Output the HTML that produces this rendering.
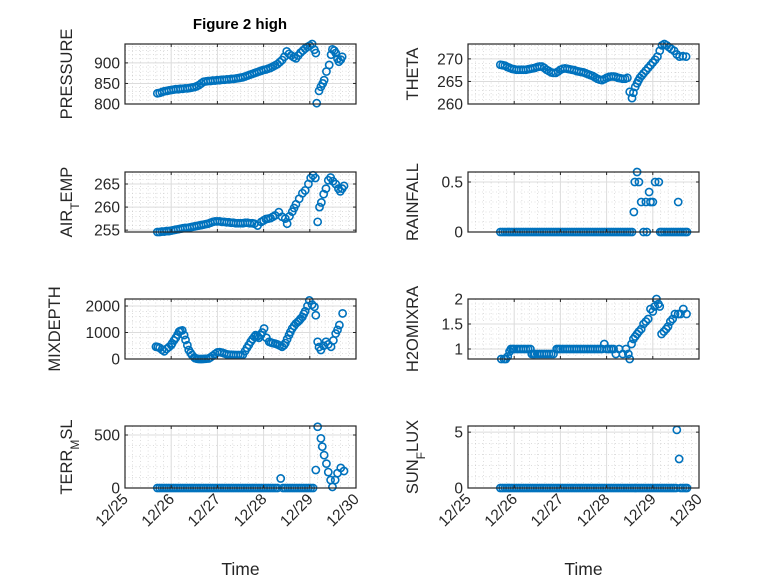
<!DOCTYPE html>
<html><head><meta charset="utf-8"><style>
html,body{margin:0;padding:0;background:#fff;}
svg{display:block;font-family:"Liberation Sans","DejaVu Sans",sans-serif;}
</style></head><body>
<svg id="fig" width="778" height="583" viewBox="0 0 778 583">
<rect width="778" height="583" fill="#fff"/>
<text x="240" y="29" text-anchor="middle" font-size="15" font-weight="bold" fill="#000">Figure 2 high</text>
</svg>
<script>
// time in days since 12/25
const dayLabels = ["12/25","12/26","12/27","12/28","12/29","12/30"];
const pressT = [0.7,0.75,0.8,0.85,0.9,0.95,1.0,1.05,1.1,1.15,1.2,1.25,1.3,1.35,1.4,1.45,1.5,1.55,1.6,1.65,1.7,1.75,1.8,1.85,1.9,1.95,2.0,2.05,2.1,2.15,2.2,2.25,2.3,2.35,2.4,2.45,2.5,2.55,2.6,2.65,2.7,2.75,2.8,2.85,2.9,2.95,3.0,3.05,3.1,3.15,3.2,3.25,3.3,3.35,3.4,3.45,3.5,3.55,3.6,3.65,3.7,3.75,3.8,3.85,3.9,3.95,4.0,4.05,4.1,4.13,4.15,4.2,4.24,4.28,4.31,4.36,4.42,4.46,4.49,4.53,4.56,4.6,4.63,4.67,4.7];
const pressV = [826,827,829,831,832,833,834,835,836,836,837,837,838,838,839,840,841,843,846,850,854,855,856,856,857,857,858,858,859,859,860,860,861,861,862,863,864,865,867,869,871,873,875,877,879,881,883,884,886,888,891,894,897,902,907,915,928,922,918,914,911,918,925,930,935,939,942,946,932,924,802,832,842,850,858,879,895,920,933,930,924,910,903,908,915];
const thetaT = [0.7,0.75,0.8,0.85,0.9,0.95,1.0,1.05,1.1,1.15,1.2,1.25,1.3,1.35,1.4,1.45,1.5,1.55,1.6,1.65,1.7,1.75,1.8,1.85,1.9,1.95,2.0,2.05,2.1,2.15,2.2,2.25,2.3,2.35,2.4,2.45,2.5,2.55,2.6,2.65,2.7,2.75,2.8,2.85,2.9,2.95,3.0,3.05,3.1,3.15,3.2,3.25,3.3,3.35,3.4,3.45,3.5,3.55,3.58,3.62,3.66,3.69,3.72,3.76,3.8,3.85,3.9,3.95,4.0,4.05,4.1,4.15,4.2,4.25,4.3,4.35,4.4,4.46,4.52,4.58,4.65,4.72];
const thetaV = [268.7,268.6,268.5,268.2,268.0,267.8,267.7,267.6,267.6,267.6,267.6,267.6,267.7,267.8,267.9,268.0,268.2,268.3,268.3,268.0,267.6,267.3,267.0,266.9,266.9,267.2,267.6,267.8,267.9,267.8,267.7,267.6,267.5,267.3,267.2,267.1,267.0,266.8,266.6,266.4,266.2,265.9,265.6,265.4,265.3,265.5,265.8,266.0,266.1,266.1,266.0,265.8,265.7,265.6,265.6,265.8,262.7,261.3,262.5,263.8,264.6,265.2,265.8,266.3,266.8,267.4,268.0,268.6,269.2,269.8,270.5,271.8,273.0,273.3,273.0,272.6,272.2,271.8,271.0,270.5,270.6,270.5];
const airT = [0.7,0.75,0.8,0.85,0.9,0.95,1.0,1.05,1.1,1.15,1.2,1.25,1.3,1.35,1.4,1.45,1.5,1.55,1.6,1.65,1.7,1.75,1.8,1.85,1.9,1.95,2.0,2.05,2.1,2.15,2.2,2.25,2.3,2.35,2.4,2.45,2.5,2.55,2.6,2.65,2.7,2.75,2.8,2.87,2.95,3.0,3.05,3.1,3.15,3.2,3.25,3.33,3.4,3.47,3.51,3.56,3.62,3.66,3.7,3.77,3.84,3.9,3.97,4.02,4.07,4.12,4.17,4.21,4.25,4.3,4.35,4.4,4.45,4.5,4.56,4.62,4.66,4.7,4.74];
const airV = [254.6,254.6,254.7,254.7,254.8,254.8,254.9,255.0,255.1,255.2,255.3,255.4,255.5,255.5,255.6,255.7,255.8,255.9,256.0,256.1,256.2,256.3,256.4,256.6,256.8,256.9,256.9,256.9,256.8,256.8,256.7,256.7,256.6,256.6,256.5,256.5,256.5,256.5,256.6,256.6,256.5,256.5,256.4,256.0,256.8,257.1,257.4,257.5,257.6,257.9,258.2,258.9,257.9,257.5,256.4,258.0,259.0,259.8,260.6,261.8,263.0,263.6,265.0,266.3,266.9,266.3,256.8,260.0,261.0,262.8,264.0,265.8,266.4,265.6,265.0,264.0,263.4,264.0,264.6];
const rainT = [0.7,0.75,0.8,0.85,0.9,0.95,1.0,1.05,1.1,1.15,1.2,1.25,1.3,1.35,1.4,1.45,1.5,1.55,1.6,1.65,1.7,1.75,1.8,1.85,1.9,1.95,2.0,2.05,2.1,2.15,2.2,2.25,2.3,2.35,2.4,2.45,2.5,2.55,2.6,2.65,2.7,2.75,2.8,2.85,2.9,2.95,3.0,3.05,3.1,3.15,3.2,3.25,3.3,3.35,3.4,3.45,3.5,3.55,3.59,3.61,3.66,3.7,3.75,3.8,3.87,3.85,3.92,3.95,4.0,4.05,4.13,4.16,4.2,4.25,4.3,4.35,4.4,4.45,4.5,4.55,4.55,4.6,4.65,4.7,4.74];
const rainV = [0,0,0,0,0,0,0,0,0,0,0,0,0,0,0,0,0,0,0,0,0,0,0,0,0,0,0,0,0,0,0,0,0,0,0,0,0,0,0,0,0,0,0,0,0,0,0,0,0,0,0,0,0,0,0,0,0,0,0.2,0.5,0.6,0.5,0.3,0,0,0.3,0.4,0.3,0.3,0.5,0.5,0,0,0,0,0,0,0,0,0,0.3,0,0,0,0];
const mixT = [0.67,0.71,0.75,0.8,0.85,0.9,0.95,1.0,1.02,1.06,1.1,1.14,1.17,1.2,1.24,1.28,1.31,1.35,1.38,1.42,1.45,1.5,1.52,1.56,1.6,1.64,1.67,1.71,1.75,1.81,1.85,1.9,1.95,2.0,2.05,2.1,2.15,2.2,2.25,2.3,2.35,2.4,2.45,2.5,2.55,2.6,2.64,2.68,2.72,2.76,2.8,2.83,2.87,2.9,2.94,2.97,3.01,3.06,3.12,3.16,3.2,3.25,3.3,3.35,3.4,3.44,3.47,3.51,3.55,3.58,3.62,3.66,3.7,3.74,3.77,3.8,3.84,3.87,3.9,3.95,3.99,4.05,4.1,4.13,4.17,4.2,4.24,4.3,4.35,4.4,4.46,4.51,4.56,4.6,4.64,4.71];
const mixV = [464,450,420,350,290,380,450,530,590,700,800,920,1030,1060,1080,900,720,520,340,230,150,60,30,10,0,0,0,5,10,20,60,120,190,250,260,240,210,180,165,160,155,150,150,150,160,300,420,530,650,750,840,900,860,800,900,1000,1150,800,650,620,600,580,550,510,460,520,600,750,900,1020,1150,1250,1340,1400,1450,1520,1590,1700,1800,2000,2210,2050,1970,1650,650,450,340,500,650,550,460,700,960,1100,1280,1720];
const h2oT = [0.72,0.78,0.82,0.86,0.9,0.93,0.97,1.0,1.05,1.1,1.15,1.2,1.25,1.3,1.35,1.38,1.42,1.45,1.5,1.55,1.6,1.65,1.7,1.75,1.8,1.85,1.92,1.96,2.0,2.05,2.1,2.15,2.2,2.25,2.3,2.35,2.4,2.45,2.5,2.55,2.6,2.65,2.7,2.75,2.8,2.85,2.9,2.95,3.0,3.05,3.1,3.15,3.2,3.27,3.35,3.42,3.47,3.5,3.54,3.58,3.62,3.66,3.7,3.75,3.8,3.85,3.9,3.95,4.0,4.04,4.08,4.12,4.15,4.19,4.24,4.29,4.33,4.38,4.43,4.48,4.55,4.6,4.66,4.73];
const h2oV = [0.8,0.8,0.8,0.85,0.95,1.0,1.0,1.0,1.0,1.0,1.0,1.0,1.0,1.0,1.0,0.9,0.9,0.9,0.9,0.9,0.9,0.9,0.9,0.9,0.9,0.9,1.0,1.0,1.0,1.0,1.0,1.0,1.0,1.0,1.0,1.0,1.0,1.0,1.0,1.0,1.0,1.0,1.0,1.0,1.0,1.0,1.0,1.1,1.0,1.0,1.0,1.0,0.9,1.0,0.9,1.0,0.9,0.8,1.1,1.2,1.25,1.3,1.35,1.4,1.5,1.55,1.6,1.8,1.75,1.85,2.0,1.9,1.85,1.3,1.35,1.4,1.45,1.55,1.6,1.7,1.7,1.7,1.8,1.7];
const terrT = [0.7,0.75,0.8,0.85,0.9,0.95,1.0,1.05,1.1,1.15,1.2,1.25,1.3,1.35,1.4,1.45,1.5,1.55,1.6,1.65,1.7,1.75,1.8,1.85,1.9,1.95,2.0,2.05,2.1,2.15,2.2,2.25,2.3,2.35,2.4,2.45,2.5,2.55,2.6,2.65,2.7,2.75,2.8,2.85,2.9,2.95,3.0,3.05,3.1,3.15,3.2,3.25,3.3,3.37,3.42,3.47,3.52,3.57,3.62,3.67,3.72,3.77,3.82,3.87,3.92,3.97,4.02,4.07,4.13,4.17,4.24,4.27,4.31,4.36,4.4,4.45,4.49,4.55,4.6,4.67,4.74];
const terrV = [0,0,0,0,0,0,0,0,0,0,0,0,0,0,0,0,0,0,0,0,0,0,0,0,0,0,0,0,0,0,0,0,0,0,0,0,0,0,0,0,0,0,0,0,0,0,0,0,0,0,0,0,0,90,0,0,0,0,0,0,0,0,0,0,0,0,0,0,170,578,468,390,310,230,150,75,10,75,140,190,160];
const sunT = [0.7,0.75,0.8,0.85,0.9,0.95,1.0,1.05,1.1,1.15,1.2,1.25,1.3,1.35,1.4,1.45,1.5,1.55,1.6,1.65,1.7,1.75,1.8,1.85,1.9,1.95,2.0,2.05,2.1,2.15,2.2,2.25,2.3,2.35,2.4,2.45,2.5,2.55,2.6,2.65,2.7,2.75,2.8,2.85,2.9,2.95,3.0,3.05,3.1,3.15,3.2,3.25,3.3,3.35,3.4,3.45,3.5,3.55,3.6,3.65,3.7,3.75,3.8,3.85,3.9,3.95,4.0,4.05,4.1,4.15,4.2,4.25,4.3,4.35,4.4,4.45,4.5,4.52,4.57,4.6,4.65,4.7,4.74];
const sunV = [0,0,0,0,0,0,0,0,0,0,0,0,0,0,0,0,0,0,0,0,0,0,0,0,0,0,0,0,0,0,0,0,0,0,0,0,0,0,0,0,0,0,0,0,0,0,0,0,0,0,0,0,0,0,0,0,0,0,0,0,0,0,0,0,0,0,0,0,0,0,0,0,0,0,0,0,0,5.2,2.6,0,0,0,0];
const pressTicks = [800,850,900], thetaTicks=[260,265,270], airTicks=[255,260,265], rainTicks=[0,0.5], mixTicks=[0,1000,2000], h2oTicks=[1,1.5,2], terrTicks=[0,500], sunTicks=[0,5];

const NS="http://www.w3.org/2000/svg";
const svg=document.getElementById('fig');
function el(tag,attrs,parent){const e=document.createElementNS(NS,tag);for(const k in attrs)e.setAttribute(k,attrs[k]);(parent||svg).appendChild(e);return e;}

function panel(name,L,R,T,B,ymin,ymax,yticks,ylab,tArr,vArr,ylabX,xlabels){
  const g=el('g',{});
  
  
  const xs=d=>L+(R-L)*d/5;
  const ys=v=>B-(B-T)*(v-ymin)/(ymax-ymin);
  for(let d=0;d<5;d+=1/6){ if(Math.abs(d-Math.round(d))<1e-6)continue; el('line',{x1:xs(d),x2:xs(d),y1:T,y2:B,stroke:'#c8c8c8','stroke-width':0.6,'stroke-dasharray':'1 2.5'},g);}
  const step=yticks.length>1?(yticks[1]-yticks[0]):(ymax-ymin);
  const mstep=step/5;
  for(let v=Math.ceil(ymin/mstep)*mstep;v<ymax;v+=mstep){ el('line',{x1:L,x2:R,y1:ys(v),y2:ys(v),stroke:'#c8c8c8','stroke-width':0.6,'stroke-dasharray':'1 2.5'},g);}
  for(let d=1;d<5;d++) el('line',{x1:xs(d),x2:xs(d),y1:T,y2:B,stroke:'#dcdcdc','stroke-width':1},g);
  yticks.forEach(v=>{ el('line',{x1:L,x2:R,y1:ys(v),y2:ys(v),stroke:'#dcdcdc','stroke-width':1},g);});
  for(let i=0;i<tArr.length;i++){
    const v=Math.max(ymin,Math.min(ymax,vArr[i]));
    const c=el('circle',{cx:xs(tArr[i]),cy:ys(v),r:3.6,fill:'none',stroke:'#0072BD','stroke-width':1.6},g);
    
    
  }
  el('rect',{x:L,y:T,width:R-L,height:B-T,fill:'none',stroke:'#262626','stroke-width':1.2},g);
  for(let d=1;d<5;d++){ el('line',{x1:xs(d),x2:xs(d),y1:B,y2:B-3,stroke:'#262626'},g); el('line',{x1:xs(d),x2:xs(d),y1:T,y2:T+3,stroke:'#262626'},g);}
  yticks.forEach(v=>{
    el('line',{x1:L,x2:L+3,y1:ys(v),y2:ys(v),stroke:'#262626'},g);
    el('line',{x1:R,x2:R-3,y1:ys(v),y2:ys(v),stroke:'#262626'},g);
    const t=el('text',{x:L-5,y:ys(v)+5.5,'text-anchor':'end','font-size':15.5,fill:'#262626'},g);
    t.textContent=String(v);
    
    
  });
  const cy=(T+B)/2;
  const yl=el('text',{x:ylabX,y:cy,'text-anchor':'middle','font-size':16.5,fill:'#262626',transform:`rotate(-90 ${ylabX} ${cy})`},g);
  yl.innerHTML=ylab;
  
  
  if(xlabels){
    dayLabels.forEach((lab,i)=>{
      const x=xs(i)+4,y=B+12;
      const t=el('text',{x:x,y:y,'text-anchor':'end','font-size':15.5,fill:'#262626',transform:`rotate(-45 ${x} ${y})`},g);
      t.textContent=lab;
      
      
    });
    const xt=el('text',{x:(L+R)/2,y:575,'text-anchor':'middle','font-size':17.5,fill:'#262626'},g);
    xt.textContent='Time';
    
    
  }
}
const LL=125,LR=356,RL=468,RR=699;
panel('pressure',LL,LR,44,104,800,946,pressTicks,'PRESSURE',pressT,pressV,72,false);
panel('theta',RL,RR,44,104,260,273.3,thetaTicks,'THETA',thetaT,thetaV,418,false);
panel('air-temp',LL,LR,172,232,254.6,267.6,airTicks,'AIR<tspan baseline-shift="sub" font-size="12">T</tspan>EMP',airT,airV,72,false);
panel('rainfall',RL,RR,172,232,0,0.6,rainTicks,'RAINFALL',rainT,rainV,418,false);
panel('mixdepth',LL,LR,299,359,0,2264,mixTicks,'MIXDEPTH',mixT,mixV,60,false);
panel('h2omixra',RL,RR,299,359,0.8,2,h2oTicks,'H2OMIXRA',h2oT,h2oV,418,false);
panel('terr-msl',LL,LR,426,488,0,585,terrTicks,'TERR<tspan baseline-shift="sub" font-size="12">M</tspan>SL',terrT,terrV,72,true);
panel('sunflux',RL,RR,426,488,0,5.55,sunTicks,'SUN<tspan baseline-shift="sub" font-size="12">F</tspan>LUX',sunT,sunV,418,true);
</script>
</body></html>
